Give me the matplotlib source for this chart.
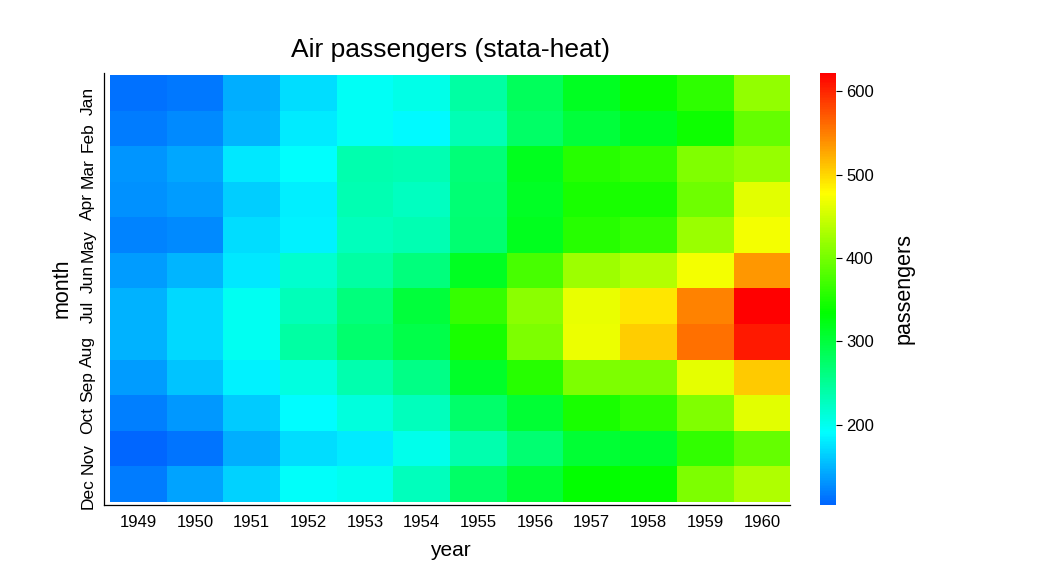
import colorsys
import numpy as np
import matplotlib.pyplot as plt
from matplotlib.colors import LinearSegmentedColormap

plt.rcParams['font.family'] = ['Liberation Sans', 'DejaVu Sans']

years = ['1949', '1950', '1951', '1952', '1953', '1954',
         '1955', '1956', '1957', '1958', '1959', '1960']
months = ['Jan', 'Feb', 'Mar', 'Apr', 'May', 'Jun',
          'Jul', 'Aug', 'Sep', 'Oct', 'Nov', 'Dec']

# passengers per month, one list per year
p1949 = [112, 118, 132, 129, 121, 135, 148, 148, 136, 119, 104, 118]
p1950 = [115, 126, 141, 135, 125, 149, 170, 170, 158, 133, 114, 140]
p1951 = [145, 150, 178, 163, 172, 178, 199, 199, 184, 162, 146, 166]
p1952 = [171, 180, 193, 181, 183, 218, 230, 242, 209, 191, 172, 194]
p1953 = [196, 196, 236, 235, 229, 243, 264, 272, 237, 211, 180, 201]
p1954 = [204, 188, 235, 227, 234, 264, 302, 293, 259, 229, 203, 229]
p1955 = [242, 233, 267, 269, 270, 315, 364, 347, 312, 274, 237, 278]
p1956 = [284, 277, 317, 313, 318, 374, 413, 405, 355, 306, 271, 306]
p1957 = [315, 301, 356, 348, 355, 422, 465, 467, 404, 347, 305, 336]
p1958 = [340, 318, 362, 348, 363, 435, 491, 505, 404, 359, 310, 337]
p1959 = [360, 342, 406, 396, 420, 472, 548, 559, 463, 407, 362, 405]
p1960 = [417, 391, 419, 461, 472, 535, 622, 606, 508, 461, 390, 432]

data = np.array([p1949, p1950, p1951, p1952, p1953, p1954,
                 p1955, p1956, p1957, p1958, p1959, p1960]).T

# hue sweep blue -> cyan -> green -> yellow -> red
hues = np.linspace(0.6, 0.0, 256)
cmap = LinearSegmentedColormap.from_list(
    'stata_heat', [colorsys.hsv_to_rgb(h, 1, 1) for h in hues])

fig = plt.figure(figsize=(10.4, 5.85), dpi=100)
ax = fig.add_axes([0.1058, 0.1419, 0.654, 0.730])
cax = fig.add_axes([0.788, 0.137, 0.0155, 0.738])

mesh = ax.pcolormesh(data, cmap=cmap, vmin=data.min(), vmax=data.max())
ax.set_xlim(0, 12)
ax.set_ylim(12, 0)
ax.set_xticks(np.arange(12) + 0.5)
ax.set_xticklabels(years)
ax.set_yticks(np.arange(12) + 0.5)
ax.set_yticklabels(months)
ax.tick_params(axis='x', length=0, pad=7, labelsize=12)
ax.tick_params(axis='y', length=0, pad=6, labelsize=12.5, labelrotation=90)
for lab in ax.get_yticklabels():
    lab.set_va('center')
for s in ['top', 'right']:
    ax.spines[s].set_visible(False)
ax.spines['left'].set_position(('outward', 4.5))
ax.spines['bottom'].set_position(('outward', 2.5))
ax.spines['left'].set_bounds(12.08, -0.05)
ax.spines['bottom'].set_bounds(-0.11, 12)
for s in ['left', 'bottom']:
    ax.spines[s].set_linewidth(0.9)
ax.set_xlabel('year', fontsize=15, labelpad=8)
ax.set_ylabel('month', fontsize=15.5, labelpad=6)
ax.set_title('Air passengers (stata-heat)', fontsize=19, pad=13)

cb = fig.colorbar(mesh, cax=cax)
cb.outline.set_visible(False)
cb.set_ticks([200, 300, 400, 500, 600])
cb.ax.tick_params(labelsize=12, length=4, width=0.8)
cb.set_label('passengers', fontsize=15.5, labelpad=14)

fig.savefig('out.png', dpi=100)
